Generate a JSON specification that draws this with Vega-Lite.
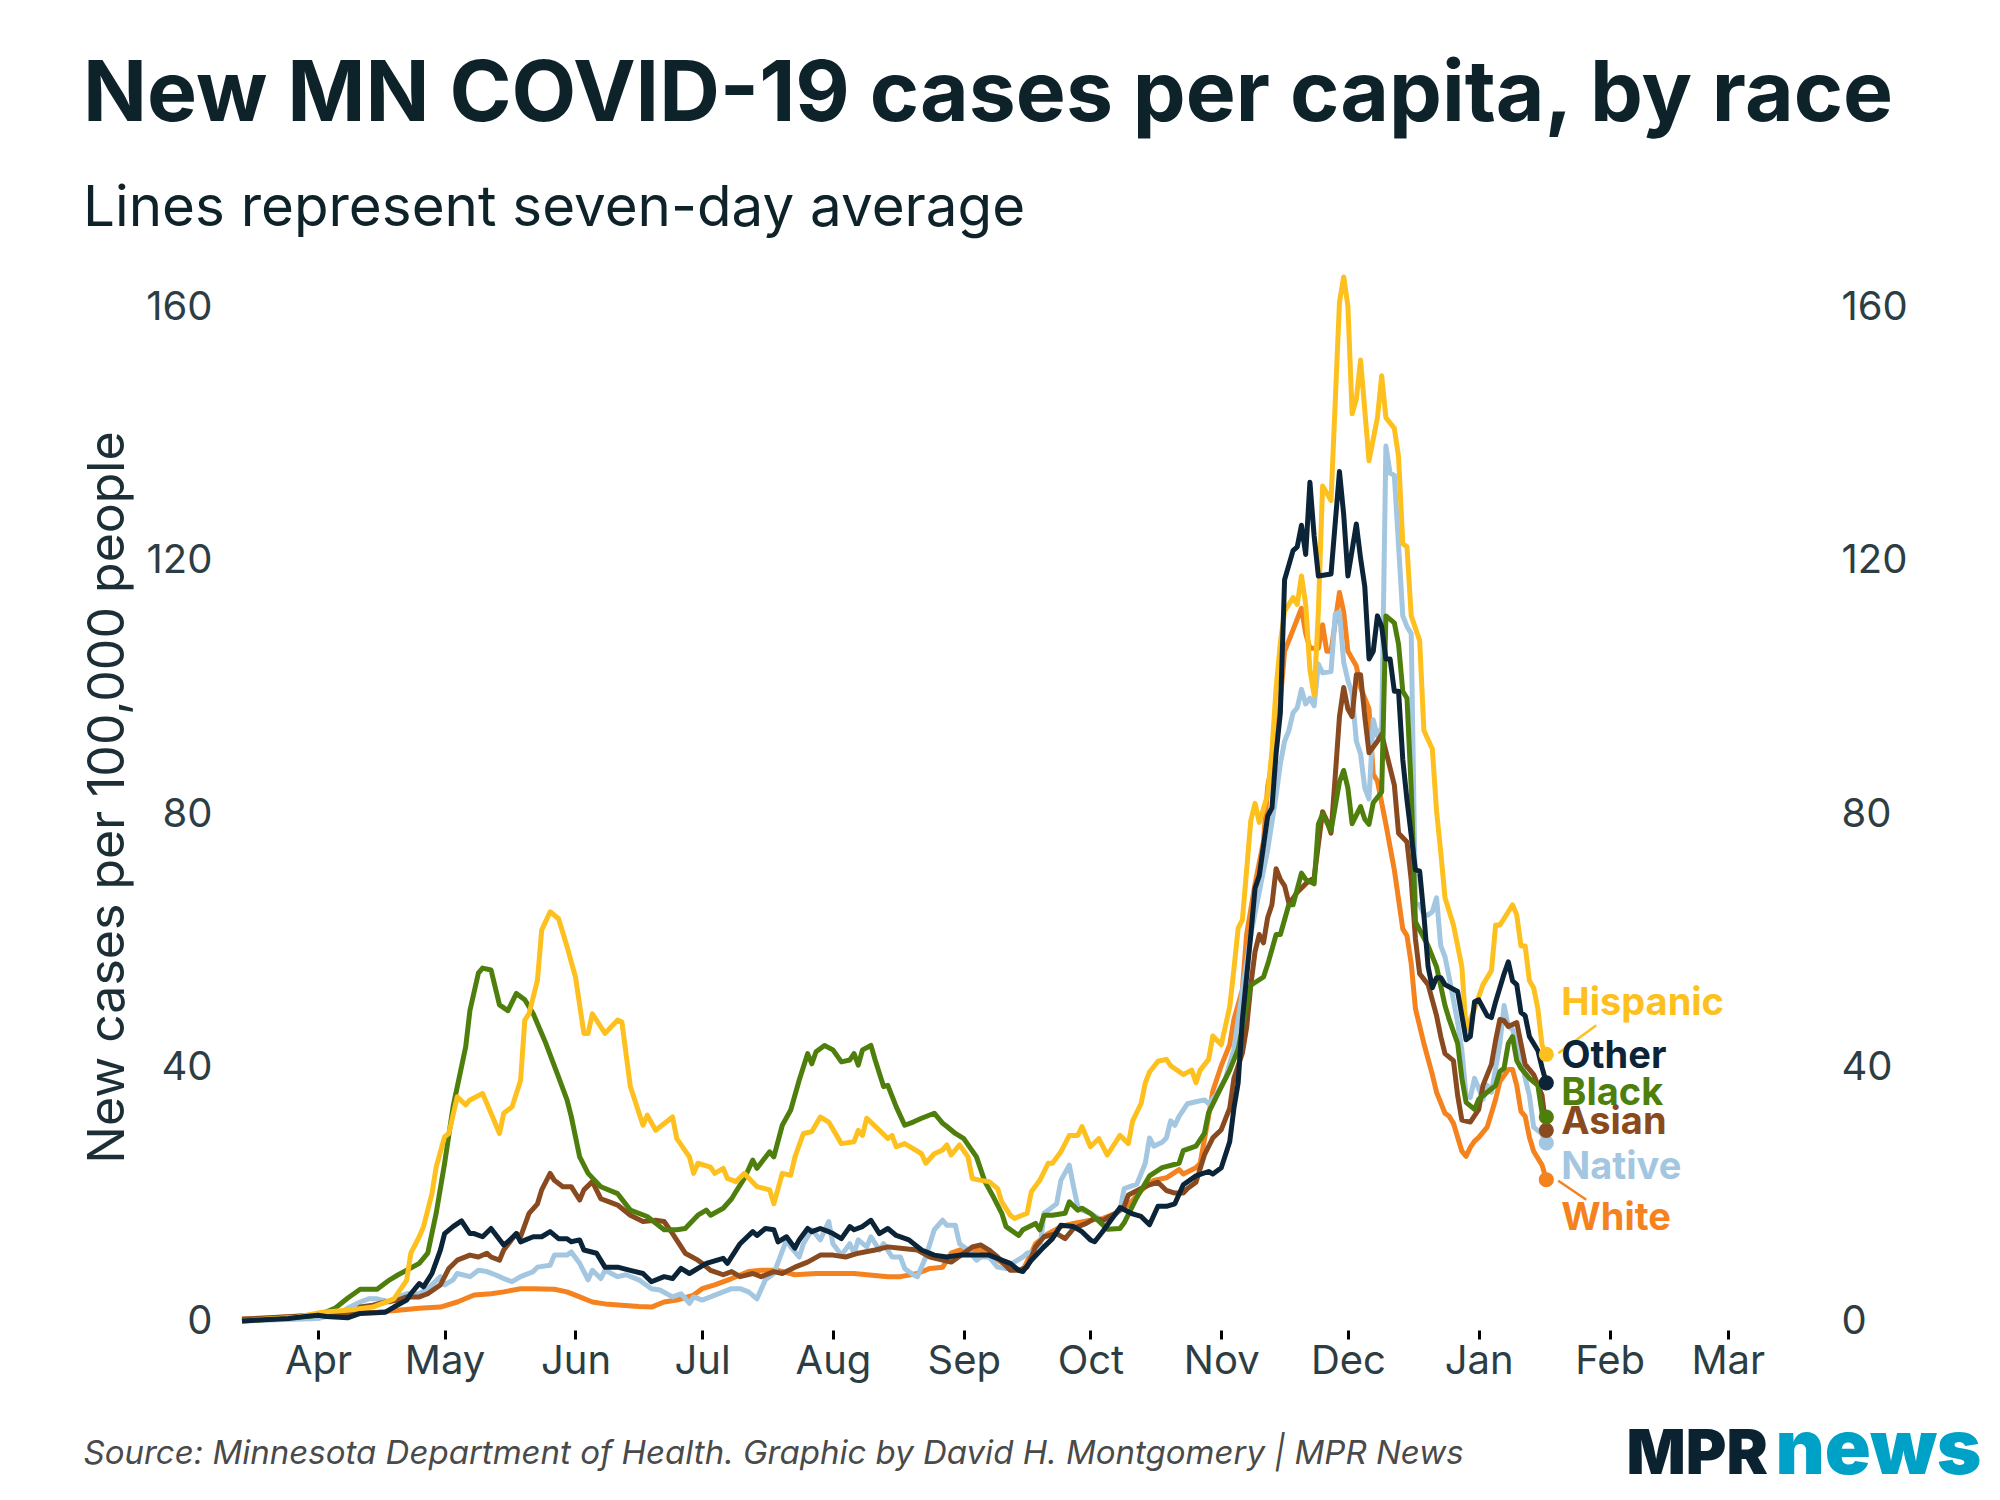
{
  "$schema": "https://vega.github.io/schema/vega-lite/v6.json",
  "width": 1566,
  "height": 1077,
  "autosize": {"type": "none"},
  "padding": {"left": 242, "top": 244, "right": 192, "bottom": 179},
  "background": "white",
  "config": {"view": {"stroke": null}, "font": "Inter"},
  "title": {
    "text": "New MN COVID-19 cases per capita, by race",
    "subtitle": "Lines represent seven-day average",
    "anchor": "start",
    "frame": "bounds",
    "font": "Inter",
    "fontSize": 84,
    "fontWeight": 700,
    "color": "#0d2229",
    "subtitleFont": "Inter",
    "subtitleFontSize": 56.5,
    "subtitleFontWeight": 400,
    "subtitleColor": "#0d2229",
    "subtitlePadding": 42,
    "offset": 6
  },
  "data": {
    "values": [
      {"race":"White","date":"2020-03-14","value":0.2},
      {"race":"White","date":"2020-04-01","value":1},
      {"race":"White","date":"2020-04-06","value":1.2},
      {"race":"White","date":"2020-04-11","value":1.3},
      {"race":"White","date":"2020-04-15","value":1.4},
      {"race":"White","date":"2020-04-20","value":1.7},
      {"race":"White","date":"2020-04-25","value":2},
      {"race":"White","date":"2020-04-30","value":2.2},
      {"race":"White","date":"2020-05-04","value":3},
      {"race":"White","date":"2020-05-08","value":4.1},
      {"race":"White","date":"2020-05-12","value":4.3},
      {"race":"White","date":"2020-05-15","value":4.6},
      {"race":"White","date":"2020-05-19","value":5.1},
      {"race":"White","date":"2020-05-22","value":5.1},
      {"race":"White","date":"2020-05-27","value":5},
      {"race":"White","date":"2020-05-30","value":4.6},
      {"race":"White","date":"2020-06-02","value":3.8},
      {"race":"White","date":"2020-06-05","value":3},
      {"race":"White","date":"2020-06-08","value":2.7},
      {"race":"White","date":"2020-06-12","value":2.5},
      {"race":"White","date":"2020-06-16","value":2.3},
      {"race":"White","date":"2020-06-19","value":2.2},
      {"race":"White","date":"2020-06-22","value":3},
      {"race":"White","date":"2020-06-25","value":3.3},
      {"race":"White","date":"2020-06-29","value":4.1},
      {"race":"White","date":"2020-07-01","value":5.1},
      {"race":"White","date":"2020-07-04","value":5.7},
      {"race":"White","date":"2020-07-08","value":6.7},
      {"race":"White","date":"2020-07-12","value":7.8},
      {"race":"White","date":"2020-07-15","value":8},
      {"race":"White","date":"2020-07-19","value":8},
      {"race":"White","date":"2020-07-23","value":7.3},
      {"race":"White","date":"2020-07-28","value":7.5},
      {"race":"White","date":"2020-08-01","value":7.5},
      {"race":"White","date":"2020-08-06","value":7.5},
      {"race":"White","date":"2020-08-09","value":7.3},
      {"race":"White","date":"2020-08-14","value":7},
      {"race":"White","date":"2020-08-17","value":7},
      {"race":"White","date":"2020-08-21","value":7.5},
      {"race":"White","date":"2020-08-24","value":8.3},
      {"race":"White","date":"2020-08-27","value":8.5},
      {"race":"White","date":"2020-08-29","value":10.7},
      {"race":"White","date":"2020-08-31","value":11.2},
      {"race":"White","date":"2020-09-03","value":11.2},
      {"race":"White","date":"2020-09-05","value":11.2},
      {"race":"White","date":"2020-09-08","value":10.1},
      {"race":"White","date":"2020-09-12","value":8.3},
      {"race":"White","date":"2020-09-15","value":8},
      {"race":"White","date":"2020-09-18","value":12.2},
      {"race":"White","date":"2020-09-21","value":13.8},
      {"race":"White","date":"2020-09-24","value":14.9},
      {"race":"White","date":"2020-09-27","value":15.4},
      {"race":"White","date":"2020-10-01","value":15.9},
      {"race":"White","date":"2020-10-04","value":16.2},
      {"race":"White","date":"2020-10-07","value":17},
      {"race":"White","date":"2020-10-10","value":18.3},
      {"race":"White","date":"2020-10-13","value":20.6},
      {"race":"White","date":"2020-10-16","value":22.2},
      {"race":"White","date":"2020-10-19","value":22.6},
      {"race":"White","date":"2020-10-22","value":23.9},
      {"race":"White","date":"2020-10-23","value":23.2},
      {"race":"White","date":"2020-10-26","value":24.2},
      {"race":"White","date":"2020-10-27","value":24.9},
      {"race":"White","date":"2020-10-29","value":32.3},
      {"race":"White","date":"2020-10-30","value":36.3},
      {"race":"White","date":"2020-11-01","value":40.3},
      {"race":"White","date":"2020-11-03","value":43.6},
      {"race":"White","date":"2020-11-04","value":47.6},
      {"race":"White","date":"2020-11-06","value":52.3},
      {"race":"White","date":"2020-11-07","value":61},
      {"race":"White","date":"2020-11-09","value":69},
      {"race":"White","date":"2020-11-11","value":75.7},
      {"race":"White","date":"2020-11-12","value":84.4},
      {"race":"White","date":"2020-11-14","value":91.1},
      {"race":"White","date":"2020-11-15","value":98},
      {"race":"White","date":"2020-11-16","value":105.7},
      {"race":"White","date":"2020-11-17","value":107.4},
      {"race":"White","date":"2020-11-18","value":109.1},
      {"race":"White","date":"2020-11-20","value":112.5},
      {"race":"White","date":"2020-11-21","value":108.5},
      {"race":"White","date":"2020-11-22","value":106.2},
      {"race":"White","date":"2020-11-24","value":106.2},
      {"race":"White","date":"2020-11-25","value":109.9},
      {"race":"White","date":"2020-11-26","value":105.7},
      {"race":"White","date":"2020-11-27","value":105.7},
      {"race":"White","date":"2020-11-29","value":115},
      {"race":"White","date":"2020-11-30","value":111.9},
      {"race":"White","date":"2020-12-01","value":105.7},
      {"race":"White","date":"2020-12-03","value":103.4},
      {"race":"White","date":"2020-12-04","value":100},
      {"race":"White","date":"2020-12-06","value":96.6},
      {"race":"White","date":"2020-12-07","value":86.3},
      {"race":"White","date":"2020-12-08","value":85.2},
      {"race":"White","date":"2020-12-10","value":78.4},
      {"race":"White","date":"2020-12-12","value":71.2},
      {"race":"White","date":"2020-12-14","value":61.9},
      {"race":"White","date":"2020-12-15","value":60.8},
      {"race":"White","date":"2020-12-16","value":56.4},
      {"race":"White","date":"2020-12-17","value":49.3},
      {"race":"White","date":"2020-12-19","value":43.8},
      {"race":"White","date":"2020-12-21","value":38.9},
      {"race":"White","date":"2020-12-22","value":36.1},
      {"race":"White","date":"2020-12-24","value":32.8},
      {"race":"White","date":"2020-12-25","value":32.3},
      {"race":"White","date":"2020-12-26","value":31.2},
      {"race":"White","date":"2020-12-28","value":26.8},
      {"race":"White","date":"2020-12-29","value":26},
      {"race":"White","date":"2020-12-30","value":27.4},
      {"race":"White","date":"2020-12-31","value":28.4},
      {"race":"White","date":"2021-01-01","value":29},
      {"race":"White","date":"2021-01-03","value":30.6},
      {"race":"White","date":"2021-01-04","value":32.8},
      {"race":"White","date":"2021-01-05","value":35},
      {"race":"White","date":"2021-01-06","value":37.8},
      {"race":"White","date":"2021-01-08","value":39.7},
      {"race":"White","date":"2021-01-09","value":39.7},
      {"race":"White","date":"2021-01-10","value":37.2},
      {"race":"White","date":"2021-01-11","value":33.1},
      {"race":"White","date":"2021-01-12","value":32.3},
      {"race":"White","date":"2021-01-13","value":29},
      {"race":"White","date":"2021-01-14","value":26.8},
      {"race":"White","date":"2021-01-16","value":24.6},
      {"race":"White","date":"2021-01-17","value":22.3},

      {"race":"Native","date":"2020-03-14","value":0},
      {"race":"Native","date":"2020-04-01","value":0.4},
      {"race":"Native","date":"2020-04-06","value":1.2},
      {"race":"Native","date":"2020-04-08","value":2},
      {"race":"Native","date":"2020-04-11","value":3},
      {"race":"Native","date":"2020-04-13","value":3.5},
      {"race":"Native","date":"2020-04-15","value":3.5},
      {"race":"Native","date":"2020-04-18","value":3},
      {"race":"Native","date":"2020-04-20","value":3.8},
      {"race":"Native","date":"2020-04-22","value":4.3},
      {"race":"Native","date":"2020-04-25","value":4.3},
      {"race":"Native","date":"2020-04-27","value":5.1},
      {"race":"Native","date":"2020-04-30","value":7},
      {"race":"Native","date":"2020-05-01","value":5.7},
      {"race":"Native","date":"2020-05-03","value":6.5},
      {"race":"Native","date":"2020-05-04","value":7.5},
      {"race":"Native","date":"2020-05-07","value":7},
      {"race":"Native","date":"2020-05-09","value":8},
      {"race":"Native","date":"2020-05-11","value":7.8},
      {"race":"Native","date":"2020-05-13","value":7.3},
      {"race":"Native","date":"2020-05-15","value":6.7},
      {"race":"Native","date":"2020-05-17","value":6.2},
      {"race":"Native","date":"2020-05-19","value":7},
      {"race":"Native","date":"2020-05-22","value":7.8},
      {"race":"Native","date":"2020-05-23","value":8.5},
      {"race":"Native","date":"2020-05-26","value":8.8},
      {"race":"Native","date":"2020-05-27","value":10.4},
      {"race":"Native","date":"2020-05-30","value":10.4},
      {"race":"Native","date":"2020-05-31","value":10.9},
      {"race":"Native","date":"2020-06-02","value":9.1},
      {"race":"Native","date":"2020-06-04","value":6.5},
      {"race":"Native","date":"2020-06-05","value":8},
      {"race":"Native","date":"2020-06-07","value":6.7},
      {"race":"Native","date":"2020-06-08","value":8},
      {"race":"Native","date":"2020-06-11","value":7},
      {"race":"Native","date":"2020-06-13","value":7.3},
      {"race":"Native","date":"2020-06-16","value":6.5},
      {"race":"Native","date":"2020-06-19","value":5.1},
      {"race":"Native","date":"2020-06-21","value":4.9},
      {"race":"Native","date":"2020-06-24","value":3.8},
      {"race":"Native","date":"2020-06-26","value":4.3},
      {"race":"Native","date":"2020-06-28","value":2.8},
      {"race":"Native","date":"2020-06-29","value":3.8},
      {"race":"Native","date":"2020-07-01","value":3.3},
      {"race":"Native","date":"2020-07-03","value":3.8},
      {"race":"Native","date":"2020-07-06","value":4.6},
      {"race":"Native","date":"2020-07-08","value":5.1},
      {"race":"Native","date":"2020-07-10","value":5.1},
      {"race":"Native","date":"2020-07-12","value":4.6},
      {"race":"Native","date":"2020-07-14","value":3.5},
      {"race":"Native","date":"2020-07-16","value":6.5},
      {"race":"Native","date":"2020-07-18","value":7.5},
      {"race":"Native","date":"2020-07-21","value":12.8},
      {"race":"Native","date":"2020-07-22","value":11.7},
      {"race":"Native","date":"2020-07-24","value":10.1},
      {"race":"Native","date":"2020-07-25","value":12.2},
      {"race":"Native","date":"2020-07-27","value":14.4},
      {"race":"Native","date":"2020-07-29","value":12.8},
      {"race":"Native","date":"2020-07-31","value":15.7},
      {"race":"Native","date":"2020-08-01","value":12.2},
      {"race":"Native","date":"2020-08-03","value":10.4},
      {"race":"Native","date":"2020-08-05","value":12.2},
      {"race":"Native","date":"2020-08-06","value":10.7},
      {"race":"Native","date":"2020-08-07","value":12.8},
      {"race":"Native","date":"2020-08-09","value":11.7},
      {"race":"Native","date":"2020-08-10","value":13.3},
      {"race":"Native","date":"2020-08-12","value":11.2},
      {"race":"Native","date":"2020-08-13","value":12.2},
      {"race":"Native","date":"2020-08-15","value":10.1},
      {"race":"Native","date":"2020-08-17","value":10.1},
      {"race":"Native","date":"2020-08-18","value":8.3},
      {"race":"Native","date":"2020-08-20","value":7.3},
      {"race":"Native","date":"2020-08-21","value":7},
      {"race":"Native","date":"2020-08-23","value":10.1},
      {"race":"Native","date":"2020-08-25","value":14.4},
      {"race":"Native","date":"2020-08-27","value":15.9},
      {"race":"Native","date":"2020-08-28","value":15.1},
      {"race":"Native","date":"2020-08-30","value":15.1},
      {"race":"Native","date":"2020-08-31","value":12.2},
      {"race":"Native","date":"2020-09-02","value":11.2},
      {"race":"Native","date":"2020-09-04","value":9.6},
      {"race":"Native","date":"2020-09-05","value":10.1},
      {"race":"Native","date":"2020-09-07","value":10.1},
      {"race":"Native","date":"2020-09-09","value":8.5},
      {"race":"Native","date":"2020-09-11","value":8.3},
      {"race":"Native","date":"2020-09-13","value":9.3},
      {"race":"Native","date":"2020-09-15","value":10.1},
      {"race":"Native","date":"2020-09-16","value":10.7},
      {"race":"Native","date":"2020-09-19","value":11.2},
      {"race":"Native","date":"2020-09-20","value":17},
      {"race":"Native","date":"2020-09-21","value":17.5},
      {"race":"Native","date":"2020-09-23","value":18.5},
      {"race":"Native","date":"2020-09-24","value":22.2},
      {"race":"Native","date":"2020-09-26","value":24.6},
      {"race":"Native","date":"2020-09-27","value":21.2},
      {"race":"Native","date":"2020-09-28","value":18.1},
      {"race":"Native","date":"2020-09-29","value":17.5},
      {"race":"Native","date":"2020-10-01","value":17},
      {"race":"Native","date":"2020-10-03","value":16.2},
      {"race":"Native","date":"2020-10-05","value":15.5},
      {"race":"Native","date":"2020-10-08","value":17.5},
      {"race":"Native","date":"2020-10-09","value":20.9},
      {"race":"Native","date":"2020-10-12","value":21.6},
      {"race":"Native","date":"2020-10-14","value":24.9},
      {"race":"Native","date":"2020-10-15","value":28.9},
      {"race":"Native","date":"2020-10-16","value":27.6},
      {"race":"Native","date":"2020-10-18","value":28.2},
      {"race":"Native","date":"2020-10-19","value":28.9},
      {"race":"Native","date":"2020-10-20","value":31.6},
      {"race":"Native","date":"2020-10-21","value":30.9},
      {"race":"Native","date":"2020-10-22","value":32.3},
      {"race":"Native","date":"2020-10-24","value":34.3},
      {"race":"Native","date":"2020-10-26","value":34.6},
      {"race":"Native","date":"2020-10-28","value":34.9},
      {"race":"Native","date":"2020-10-29","value":34.3},
      {"race":"Native","date":"2020-10-31","value":35.9},
      {"race":"Native","date":"2020-11-02","value":38.3},
      {"race":"Native","date":"2020-11-04","value":42.9},
      {"race":"Native","date":"2020-11-05","value":47.6},
      {"race":"Native","date":"2020-11-08","value":61},
      {"race":"Native","date":"2020-11-10","value":67.7},
      {"race":"Native","date":"2020-11-12","value":74.4},
      {"race":"Native","date":"2020-11-14","value":83},
      {"race":"Native","date":"2020-11-15","value":88},
      {"race":"Native","date":"2020-11-16","value":91.5},
      {"race":"Native","date":"2020-11-17","value":93.2},
      {"race":"Native","date":"2020-11-18","value":96},
      {"race":"Native","date":"2020-11-19","value":96.8},
      {"race":"Native","date":"2020-11-20","value":99.7},
      {"race":"Native","date":"2020-11-21","value":97.4},
      {"race":"Native","date":"2020-11-22","value":98.3},
      {"race":"Native","date":"2020-11-23","value":97.1},
      {"race":"Native","date":"2020-11-24","value":103.7},
      {"race":"Native","date":"2020-11-25","value":102.3},
      {"race":"Native","date":"2020-11-27","value":102.5},
      {"race":"Native","date":"2020-11-28","value":111.6},
      {"race":"Native","date":"2020-11-29","value":111.9},
      {"race":"Native","date":"2020-11-30","value":104},
      {"race":"Native","date":"2020-12-01","value":101.1},
      {"race":"Native","date":"2020-12-02","value":99},
      {"race":"Native","date":"2020-12-03","value":91.5},
      {"race":"Native","date":"2020-12-04","value":89.5},
      {"race":"Native","date":"2020-12-05","value":84.1},
      {"race":"Native","date":"2020-12-06","value":82.4},
      {"race":"Native","date":"2020-12-07","value":94.9},
      {"race":"Native","date":"2020-12-08","value":92.3},
      {"race":"Native","date":"2020-12-09","value":93.7},
      {"race":"Native","date":"2020-12-10","value":138.1},
      {"race":"Native","date":"2020-12-11","value":133.8},
      {"race":"Native","date":"2020-12-12","value":133.5},
      {"race":"Native","date":"2020-12-14","value":111.3},
      {"race":"Native","date":"2020-12-15","value":109.6},
      {"race":"Native","date":"2020-12-16","value":108.5},
      {"race":"Native","date":"2020-12-17","value":66},
      {"race":"Native","date":"2020-12-18","value":65.7},
      {"race":"Native","date":"2020-12-19","value":64.1},
      {"race":"Native","date":"2020-12-20","value":64.1},
      {"race":"Native","date":"2020-12-21","value":64.6},
      {"race":"Native","date":"2020-12-22","value":66.8},
      {"race":"Native","date":"2020-12-23","value":59.2},
      {"race":"Native","date":"2020-12-24","value":57.5},
      {"race":"Native","date":"2020-12-25","value":54.2},
      {"race":"Native","date":"2020-12-27","value":47.1},
      {"race":"Native","date":"2020-12-28","value":42.7},
      {"race":"Native","date":"2020-12-29","value":35.6},
      {"race":"Native","date":"2020-12-30","value":35.3},
      {"race":"Native","date":"2020-12-31","value":38.3},
      {"race":"Native","date":"2021-01-01","value":36.7},
      {"race":"Native","date":"2021-01-02","value":35},
      {"race":"Native","date":"2021-01-03","value":37.2},
      {"race":"Native","date":"2021-01-04","value":36.1},
      {"race":"Native","date":"2021-01-05","value":39.9},
      {"race":"Native","date":"2021-01-06","value":43.8},
      {"race":"Native","date":"2021-01-07","value":49.8},
      {"race":"Native","date":"2021-01-08","value":46.5},
      {"race":"Native","date":"2021-01-09","value":46},
      {"race":"Native","date":"2021-01-10","value":43.8},
      {"race":"Native","date":"2021-01-11","value":41.6},
      {"race":"Native","date":"2021-01-12","value":38.3},
      {"race":"Native","date":"2021-01-13","value":35.6},
      {"race":"Native","date":"2021-01-14","value":30.6},
      {"race":"Native","date":"2021-01-16","value":29.5},
      {"race":"Native","date":"2021-01-17","value":28.1},

      {"race":"Asian","date":"2020-03-14","value":0.3},
      {"race":"Asian","date":"2020-04-01","value":0.9},
      {"race":"Asian","date":"2020-04-08","value":1.2},
      {"race":"Asian","date":"2020-04-10","value":1.7},
      {"race":"Asian","date":"2020-04-11","value":2.2},
      {"race":"Asian","date":"2020-04-14","value":2.5},
      {"race":"Asian","date":"2020-04-17","value":3},
      {"race":"Asian","date":"2020-04-20","value":3.3},
      {"race":"Asian","date":"2020-04-22","value":3.8},
      {"race":"Asian","date":"2020-04-25","value":3.8},
      {"race":"Asian","date":"2020-04-27","value":4.3},
      {"race":"Asian","date":"2020-04-30","value":5.7},
      {"race":"Asian","date":"2020-05-02","value":8.3},
      {"race":"Asian","date":"2020-05-04","value":9.6},
      {"race":"Asian","date":"2020-05-07","value":10.4},
      {"race":"Asian","date":"2020-05-09","value":10.1},
      {"race":"Asian","date":"2020-05-11","value":10.7},
      {"race":"Asian","date":"2020-05-12","value":10.1},
      {"race":"Asian","date":"2020-05-14","value":9.6},
      {"race":"Asian","date":"2020-05-15","value":11.2},
      {"race":"Asian","date":"2020-05-18","value":13.8},
      {"race":"Asian","date":"2020-05-19","value":13.3},
      {"race":"Asian","date":"2020-05-21","value":17},
      {"race":"Asian","date":"2020-05-23","value":18.5},
      {"race":"Asian","date":"2020-05-24","value":20.7},
      {"race":"Asian","date":"2020-05-26","value":23.3},
      {"race":"Asian","date":"2020-05-27","value":22.2},
      {"race":"Asian","date":"2020-05-29","value":21.2},
      {"race":"Asian","date":"2020-05-31","value":21.2},
      {"race":"Asian","date":"2020-06-02","value":19.1},
      {"race":"Asian","date":"2020-06-03","value":20.7},
      {"race":"Asian","date":"2020-06-05","value":22},
      {"race":"Asian","date":"2020-06-07","value":19.3},
      {"race":"Asian","date":"2020-06-09","value":18.8},
      {"race":"Asian","date":"2020-06-11","value":18.3},
      {"race":"Asian","date":"2020-06-14","value":16.7},
      {"race":"Asian","date":"2020-06-17","value":15.7},
      {"race":"Asian","date":"2020-06-20","value":15.9},
      {"race":"Asian","date":"2020-06-22","value":15.7},
      {"race":"Asian","date":"2020-06-24","value":13.8},
      {"race":"Asian","date":"2020-06-27","value":10.7},
      {"race":"Asian","date":"2020-06-30","value":9.6},
      {"race":"Asian","date":"2020-07-01","value":9.1},
      {"race":"Asian","date":"2020-07-03","value":8},
      {"race":"Asian","date":"2020-07-06","value":7.3},
      {"race":"Asian","date":"2020-07-08","value":7.8},
      {"race":"Asian","date":"2020-07-10","value":7},
      {"race":"Asian","date":"2020-07-13","value":7.5},
      {"race":"Asian","date":"2020-07-15","value":7},
      {"race":"Asian","date":"2020-07-18","value":7.8},
      {"race":"Asian","date":"2020-07-20","value":7.5},
      {"race":"Asian","date":"2020-07-23","value":8.5},
      {"race":"Asian","date":"2020-07-26","value":9.3},
      {"race":"Asian","date":"2020-07-29","value":10.4},
      {"race":"Asian","date":"2020-08-01","value":10.4},
      {"race":"Asian","date":"2020-08-04","value":10.1},
      {"race":"Asian","date":"2020-08-07","value":10.7},
      {"race":"Asian","date":"2020-08-11","value":11.2},
      {"race":"Asian","date":"2020-08-14","value":11.7},
      {"race":"Asian","date":"2020-08-17","value":11.5},
      {"race":"Asian","date":"2020-08-21","value":11.2},
      {"race":"Asian","date":"2020-08-24","value":10.1},
      {"race":"Asian","date":"2020-08-27","value":9.6},
      {"race":"Asian","date":"2020-08-29","value":9.3},
      {"race":"Asian","date":"2020-09-01","value":10.7},
      {"race":"Asian","date":"2020-09-03","value":11.7},
      {"race":"Asian","date":"2020-09-05","value":12},
      {"race":"Asian","date":"2020-09-07","value":11.2},
      {"race":"Asian","date":"2020-09-09","value":10.1},
      {"race":"Asian","date":"2020-09-12","value":8},
      {"race":"Asian","date":"2020-09-14","value":8},
      {"race":"Asian","date":"2020-09-16","value":8.5},
      {"race":"Asian","date":"2020-09-18","value":11.7},
      {"race":"Asian","date":"2020-09-20","value":13.3},
      {"race":"Asian","date":"2020-09-23","value":13.8},
      {"race":"Asian","date":"2020-09-25","value":13},
      {"race":"Asian","date":"2020-09-27","value":14.6},
      {"race":"Asian","date":"2020-09-30","value":15.4},
      {"race":"Asian","date":"2020-10-02","value":16.2},
      {"race":"Asian","date":"2020-10-04","value":15.9},
      {"race":"Asian","date":"2020-10-07","value":17},
      {"race":"Asian","date":"2020-10-09","value":18.1},
      {"race":"Asian","date":"2020-10-10","value":19.9},
      {"race":"Asian","date":"2020-10-13","value":20.9},
      {"race":"Asian","date":"2020-10-15","value":21.5},
      {"race":"Asian","date":"2020-10-17","value":21.9},
      {"race":"Asian","date":"2020-10-19","value":20.6},
      {"race":"Asian","date":"2020-10-21","value":20.2},
      {"race":"Asian","date":"2020-10-23","value":20.2},
      {"race":"Asian","date":"2020-10-24","value":20.9},
      {"race":"Asian","date":"2020-10-26","value":21.9},
      {"race":"Asian","date":"2020-10-28","value":26.2},
      {"race":"Asian","date":"2020-10-30","value":28.9},
      {"race":"Asian","date":"2020-11-01","value":30.2},
      {"race":"Asian","date":"2020-11-03","value":33.6},
      {"race":"Asian","date":"2020-11-04","value":38.3},
      {"race":"Asian","date":"2020-11-06","value":42.3},
      {"race":"Asian","date":"2020-11-07","value":46.3},
      {"race":"Asian","date":"2020-11-08","value":53},
      {"race":"Asian","date":"2020-11-09","value":58.3},
      {"race":"Asian","date":"2020-11-10","value":61},
      {"race":"Asian","date":"2020-11-11","value":59.7},
      {"race":"Asian","date":"2020-11-12","value":63.7},
      {"race":"Asian","date":"2020-11-13","value":65.7},
      {"race":"Asian","date":"2020-11-14","value":71.4},
      {"race":"Asian","date":"2020-11-15","value":69.7},
      {"race":"Asian","date":"2020-11-16","value":68.7},
      {"race":"Asian","date":"2020-11-17","value":66},
      {"race":"Asian","date":"2020-11-18","value":66.7},
      {"race":"Asian","date":"2020-11-19","value":67.7},
      {"race":"Asian","date":"2020-11-21","value":69},
      {"race":"Asian","date":"2020-11-23","value":70},
      {"race":"Asian","date":"2020-11-25","value":80.4},
      {"race":"Asian","date":"2020-11-26","value":79},
      {"race":"Asian","date":"2020-11-27","value":77},
      {"race":"Asian","date":"2020-11-28","value":86},
      {"race":"Asian","date":"2020-11-29","value":95.4},
      {"race":"Asian","date":"2020-11-30","value":100},
      {"race":"Asian","date":"2020-12-01","value":96.6},
      {"race":"Asian","date":"2020-12-02","value":95.4},
      {"race":"Asian","date":"2020-12-03","value":102},
      {"race":"Asian","date":"2020-12-04","value":102},
      {"race":"Asian","date":"2020-12-05","value":95.4},
      {"race":"Asian","date":"2020-12-06","value":89.7},
      {"race":"Asian","date":"2020-12-08","value":91.5},
      {"race":"Asian","date":"2020-12-09","value":92.6},
      {"race":"Asian","date":"2020-12-12","value":84.6},
      {"race":"Asian","date":"2020-12-13","value":77},
      {"race":"Asian","date":"2020-12-15","value":75.6},
      {"race":"Asian","date":"2020-12-16","value":69.6},
      {"race":"Asian","date":"2020-12-17","value":60.3},
      {"race":"Asian","date":"2020-12-18","value":54.8},
      {"race":"Asian","date":"2020-12-20","value":53.1},
      {"race":"Asian","date":"2020-12-22","value":48.2},
      {"race":"Asian","date":"2020-12-23","value":44.9},
      {"race":"Asian","date":"2020-12-24","value":42.2},
      {"race":"Asian","date":"2020-12-26","value":41.1},
      {"race":"Asian","date":"2020-12-27","value":35.6},
      {"race":"Asian","date":"2020-12-28","value":31.7},
      {"race":"Asian","date":"2020-12-30","value":31.4},
      {"race":"Asian","date":"2021-01-01","value":33.4},
      {"race":"Asian","date":"2021-01-02","value":37.2},
      {"race":"Asian","date":"2021-01-04","value":40.5},
      {"race":"Asian","date":"2021-01-05","value":44.3},
      {"race":"Asian","date":"2021-01-06","value":47.6},
      {"race":"Asian","date":"2021-01-07","value":47.4},
      {"race":"Asian","date":"2021-01-08","value":46.5},
      {"race":"Asian","date":"2021-01-10","value":47.1},
      {"race":"Asian","date":"2021-01-11","value":43.8},
      {"race":"Asian","date":"2021-01-12","value":40.5},
      {"race":"Asian","date":"2021-01-14","value":38.9},
      {"race":"Asian","date":"2021-01-16","value":35.6},
      {"race":"Asian","date":"2021-01-17","value":30.1},

      {"race":"Black","date":"2020-03-14","value":0},
      {"race":"Black","date":"2020-03-25","value":0.5},
      {"race":"Black","date":"2020-04-01","value":0.9},
      {"race":"Black","date":"2020-04-05","value":2},
      {"race":"Black","date":"2020-04-08","value":3.6},
      {"race":"Black","date":"2020-04-11","value":5},
      {"race":"Black","date":"2020-04-15","value":5},
      {"race":"Black","date":"2020-04-18","value":6.5},
      {"race":"Black","date":"2020-04-20","value":7.3},
      {"race":"Black","date":"2020-04-22","value":8},
      {"race":"Black","date":"2020-04-25","value":9.1},
      {"race":"Black","date":"2020-04-27","value":10.7},
      {"race":"Black","date":"2020-04-29","value":17},
      {"race":"Black","date":"2020-05-01","value":24.9},
      {"race":"Black","date":"2020-05-03","value":33.8},
      {"race":"Black","date":"2020-05-06","value":43.3},
      {"race":"Black","date":"2020-05-07","value":49},
      {"race":"Black","date":"2020-05-09","value":54.9},
      {"race":"Black","date":"2020-05-10","value":55.7},
      {"race":"Black","date":"2020-05-12","value":55.4},
      {"race":"Black","date":"2020-05-14","value":49.9},
      {"race":"Black","date":"2020-05-16","value":49},
      {"race":"Black","date":"2020-05-18","value":51.7},
      {"race":"Black","date":"2020-05-20","value":50.7},
      {"race":"Black","date":"2020-05-22","value":48.5},
      {"race":"Black","date":"2020-05-25","value":43.8},
      {"race":"Black","date":"2020-05-28","value":38.5},
      {"race":"Black","date":"2020-05-30","value":34.9},
      {"race":"Black","date":"2020-05-31","value":32.3},
      {"race":"Black","date":"2020-06-02","value":25.9},
      {"race":"Black","date":"2020-06-04","value":23.3},
      {"race":"Black","date":"2020-06-07","value":21.2},
      {"race":"Black","date":"2020-06-11","value":20.1},
      {"race":"Black","date":"2020-06-14","value":17.5},
      {"race":"Black","date":"2020-06-18","value":16.5},
      {"race":"Black","date":"2020-06-22","value":14.4},
      {"race":"Black","date":"2020-06-25","value":14.4},
      {"race":"Black","date":"2020-06-27","value":14.6},
      {"race":"Black","date":"2020-06-30","value":16.7},
      {"race":"Black","date":"2020-07-02","value":17.5},
      {"race":"Black","date":"2020-07-03","value":16.7},
      {"race":"Black","date":"2020-07-06","value":17.8},
      {"race":"Black","date":"2020-07-08","value":19.3},
      {"race":"Black","date":"2020-07-09","value":20.4},
      {"race":"Black","date":"2020-07-11","value":22.5},
      {"race":"Black","date":"2020-07-13","value":25.4},
      {"race":"Black","date":"2020-07-14","value":24.1},
      {"race":"Black","date":"2020-07-17","value":26.7},
      {"race":"Black","date":"2020-07-18","value":25.9},
      {"race":"Black","date":"2020-07-20","value":30.9},
      {"race":"Black","date":"2020-07-22","value":33.3},
      {"race":"Black","date":"2020-07-24","value":38},
      {"race":"Black","date":"2020-07-26","value":42.2},
      {"race":"Black","date":"2020-07-27","value":40.6},
      {"race":"Black","date":"2020-07-28","value":42.5},
      {"race":"Black","date":"2020-07-30","value":43.5},
      {"race":"Black","date":"2020-08-01","value":42.8},
      {"race":"Black","date":"2020-08-03","value":40.9},
      {"race":"Black","date":"2020-08-05","value":41.2},
      {"race":"Black","date":"2020-08-06","value":42.2},
      {"race":"Black","date":"2020-08-07","value":40.4},
      {"race":"Black","date":"2020-08-08","value":42.8},
      {"race":"Black","date":"2020-08-10","value":43.5},
      {"race":"Black","date":"2020-08-11","value":41.2},
      {"race":"Black","date":"2020-08-13","value":37},
      {"race":"Black","date":"2020-08-14","value":37.2},
      {"race":"Black","date":"2020-08-16","value":33.8},
      {"race":"Black","date":"2020-08-18","value":30.9},
      {"race":"Black","date":"2020-08-20","value":31.4},
      {"race":"Black","date":"2020-08-22","value":32},
      {"race":"Black","date":"2020-08-25","value":32.8},
      {"race":"Black","date":"2020-08-27","value":31.2},
      {"race":"Black","date":"2020-08-28","value":30.7},
      {"race":"Black","date":"2020-08-30","value":29.6},
      {"race":"Black","date":"2020-09-01","value":28.8},
      {"race":"Black","date":"2020-09-04","value":25.9},
      {"race":"Black","date":"2020-09-06","value":22},
      {"race":"Black","date":"2020-09-08","value":19.6},
      {"race":"Black","date":"2020-09-10","value":17},
      {"race":"Black","date":"2020-09-11","value":14.9},
      {"race":"Black","date":"2020-09-14","value":13.5},
      {"race":"Black","date":"2020-09-15","value":14.4},
      {"race":"Black","date":"2020-09-18","value":15.4},
      {"race":"Black","date":"2020-09-19","value":14.4},
      {"race":"Black","date":"2020-09-20","value":16.7},
      {"race":"Black","date":"2020-09-22","value":16.7},
      {"race":"Black","date":"2020-09-25","value":17},
      {"race":"Black","date":"2020-09-26","value":18.8},
      {"race":"Black","date":"2020-09-28","value":17.5},
      {"race":"Black","date":"2020-09-29","value":17.8},
      {"race":"Black","date":"2020-10-01","value":17},
      {"race":"Black","date":"2020-10-05","value":14.5},
      {"race":"Black","date":"2020-10-08","value":14.6},
      {"race":"Black","date":"2020-10-09","value":15.5},
      {"race":"Black","date":"2020-10-12","value":19.5},
      {"race":"Black","date":"2020-10-15","value":22.9},
      {"race":"Black","date":"2020-10-18","value":24.2},
      {"race":"Black","date":"2020-10-22","value":24.9},
      {"race":"Black","date":"2020-10-23","value":26.9},
      {"race":"Black","date":"2020-10-26","value":27.6},
      {"race":"Black","date":"2020-10-28","value":29.6},
      {"race":"Black","date":"2020-10-29","value":32.9},
      {"race":"Black","date":"2020-10-31","value":35.6},
      {"race":"Black","date":"2020-11-03","value":39.6},
      {"race":"Black","date":"2020-11-05","value":42.9},
      {"race":"Black","date":"2020-11-06","value":46.3},
      {"race":"Black","date":"2020-11-08","value":53},
      {"race":"Black","date":"2020-11-11","value":54.3},
      {"race":"Black","date":"2020-11-12","value":56.3},
      {"race":"Black","date":"2020-11-14","value":61},
      {"race":"Black","date":"2020-11-15","value":61},
      {"race":"Black","date":"2020-11-17","value":65.7},
      {"race":"Black","date":"2020-11-18","value":65.7},
      {"race":"Black","date":"2020-11-20","value":70.7},
      {"race":"Black","date":"2020-11-21","value":69.7},
      {"race":"Black","date":"2020-11-23","value":69},
      {"race":"Black","date":"2020-11-24","value":78.4},
      {"race":"Black","date":"2020-11-25","value":80},
      {"race":"Black","date":"2020-11-27","value":77.4},
      {"race":"Black","date":"2020-11-29","value":85.1},
      {"race":"Black","date":"2020-11-30","value":86.9},
      {"race":"Black","date":"2020-12-01","value":84.1},
      {"race":"Black","date":"2020-12-02","value":78.5},
      {"race":"Black","date":"2020-12-04","value":81.2},
      {"race":"Black","date":"2020-12-05","value":79.2},
      {"race":"Black","date":"2020-12-06","value":78.4},
      {"race":"Black","date":"2020-12-07","value":81.8},
      {"race":"Black","date":"2020-12-09","value":83.5},
      {"race":"Black","date":"2020-12-10","value":111.3},
      {"race":"Black","date":"2020-12-12","value":110.2},
      {"race":"Black","date":"2020-12-13","value":106.8},
      {"race":"Black","date":"2020-12-14","value":99.4},
      {"race":"Black","date":"2020-12-15","value":98.3},
      {"race":"Black","date":"2020-12-16","value":84},
      {"race":"Black","date":"2020-12-17","value":63},
      {"race":"Black","date":"2020-12-20","value":59.2},
      {"race":"Black","date":"2020-12-22","value":55.9},
      {"race":"Black","date":"2020-12-24","value":49.8},
      {"race":"Black","date":"2020-12-25","value":47.6},
      {"race":"Black","date":"2020-12-27","value":43.8},
      {"race":"Black","date":"2020-12-28","value":38.3},
      {"race":"Black","date":"2020-12-29","value":34.5},
      {"race":"Black","date":"2020-12-31","value":33.4},
      {"race":"Black","date":"2021-01-01","value":35},
      {"race":"Black","date":"2021-01-03","value":36.1},
      {"race":"Black","date":"2021-01-05","value":37.2},
      {"race":"Black","date":"2021-01-06","value":39.4},
      {"race":"Black","date":"2021-01-07","value":39.9},
      {"race":"Black","date":"2021-01-08","value":43.8},
      {"race":"Black","date":"2021-01-09","value":44.9},
      {"race":"Black","date":"2021-01-10","value":41.1},
      {"race":"Black","date":"2021-01-11","value":39.9},
      {"race":"Black","date":"2021-01-13","value":38.3},
      {"race":"Black","date":"2021-01-15","value":37.2},
      {"race":"Black","date":"2021-01-16","value":32.8},
      {"race":"Black","date":"2021-01-17","value":32.2},

      {"race":"Hispanic","date":"2020-03-14","value":0},
      {"race":"Hispanic","date":"2020-03-20","value":0.3},
      {"race":"Hispanic","date":"2020-03-27","value":0.6},
      {"race":"Hispanic","date":"2020-04-02","value":1.4},
      {"race":"Hispanic","date":"2020-04-08","value":1.7},
      {"race":"Hispanic","date":"2020-04-14","value":2.2},
      {"race":"Hispanic","date":"2020-04-19","value":3.5},
      {"race":"Hispanic","date":"2020-04-22","value":6.4},
      {"race":"Hispanic","date":"2020-04-23","value":10.7},
      {"race":"Hispanic","date":"2020-04-25","value":13.3},
      {"race":"Hispanic","date":"2020-04-26","value":14.9},
      {"race":"Hispanic","date":"2020-04-28","value":20.1},
      {"race":"Hispanic","date":"2020-04-29","value":24.3},
      {"race":"Hispanic","date":"2020-05-01","value":29.1},
      {"race":"Hispanic","date":"2020-05-02","value":29.6},
      {"race":"Hispanic","date":"2020-05-04","value":35.4},
      {"race":"Hispanic","date":"2020-05-06","value":34.1},
      {"race":"Hispanic","date":"2020-05-07","value":34.9},
      {"race":"Hispanic","date":"2020-05-10","value":35.9},
      {"race":"Hispanic","date":"2020-05-12","value":32.8},
      {"race":"Hispanic","date":"2020-05-14","value":29.6},
      {"race":"Hispanic","date":"2020-05-15","value":32.8},
      {"race":"Hispanic","date":"2020-05-17","value":33.8},
      {"race":"Hispanic","date":"2020-05-19","value":38},
      {"race":"Hispanic","date":"2020-05-20","value":47.5},
      {"race":"Hispanic","date":"2020-05-21","value":48.5},
      {"race":"Hispanic","date":"2020-05-23","value":53.8},
      {"race":"Hispanic","date":"2020-05-24","value":61.7},
      {"race":"Hispanic","date":"2020-05-26","value":64.6},
      {"race":"Hispanic","date":"2020-05-28","value":63.5},
      {"race":"Hispanic","date":"2020-05-30","value":59.1},
      {"race":"Hispanic","date":"2020-06-01","value":54.3},
      {"race":"Hispanic","date":"2020-06-03","value":45.4},
      {"race":"Hispanic","date":"2020-06-04","value":45.4},
      {"race":"Hispanic","date":"2020-06-05","value":48.5},
      {"race":"Hispanic","date":"2020-06-08","value":45.4},
      {"race":"Hispanic","date":"2020-06-11","value":47.5},
      {"race":"Hispanic","date":"2020-06-12","value":47.2},
      {"race":"Hispanic","date":"2020-06-14","value":37},
      {"race":"Hispanic","date":"2020-06-17","value":30.9},
      {"race":"Hispanic","date":"2020-06-18","value":32.5},
      {"race":"Hispanic","date":"2020-06-20","value":30.1},
      {"race":"Hispanic","date":"2020-06-24","value":32.2},
      {"race":"Hispanic","date":"2020-06-25","value":28.8},
      {"race":"Hispanic","date":"2020-06-28","value":25.9},
      {"race":"Hispanic","date":"2020-06-29","value":23.3},
      {"race":"Hispanic","date":"2020-06-30","value":24.9},
      {"race":"Hispanic","date":"2020-07-03","value":24.3},
      {"race":"Hispanic","date":"2020-07-04","value":23.3},
      {"race":"Hispanic","date":"2020-07-06","value":24.1},
      {"race":"Hispanic","date":"2020-07-07","value":22.5},
      {"race":"Hispanic","date":"2020-07-09","value":22},
      {"race":"Hispanic","date":"2020-07-11","value":23.3},
      {"race":"Hispanic","date":"2020-07-14","value":21.2},
      {"race":"Hispanic","date":"2020-07-17","value":20.7},
      {"race":"Hispanic","date":"2020-07-18","value":18.5},
      {"race":"Hispanic","date":"2020-07-20","value":23.3},
      {"race":"Hispanic","date":"2020-07-22","value":23},
      {"race":"Hispanic","date":"2020-07-23","value":25.9},
      {"race":"Hispanic","date":"2020-07-25","value":29.6},
      {"race":"Hispanic","date":"2020-07-27","value":29.9},
      {"race":"Hispanic","date":"2020-07-29","value":32.2},
      {"race":"Hispanic","date":"2020-07-31","value":31.4},
      {"race":"Hispanic","date":"2020-08-03","value":28},
      {"race":"Hispanic","date":"2020-08-06","value":28.3},
      {"race":"Hispanic","date":"2020-08-07","value":30.1},
      {"race":"Hispanic","date":"2020-08-08","value":29.3},
      {"race":"Hispanic","date":"2020-08-09","value":32},
      {"race":"Hispanic","date":"2020-08-12","value":30.1},
      {"race":"Hispanic","date":"2020-08-14","value":28.8},
      {"race":"Hispanic","date":"2020-08-15","value":29.3},
      {"race":"Hispanic","date":"2020-08-16","value":27.5},
      {"race":"Hispanic","date":"2020-08-18","value":28},
      {"race":"Hispanic","date":"2020-08-20","value":27.2},
      {"race":"Hispanic","date":"2020-08-22","value":26.4},
      {"race":"Hispanic","date":"2020-08-23","value":24.9},
      {"race":"Hispanic","date":"2020-08-25","value":26.4},
      {"race":"Hispanic","date":"2020-08-27","value":27},
      {"race":"Hispanic","date":"2020-08-28","value":27.8},
      {"race":"Hispanic","date":"2020-08-29","value":26.2},
      {"race":"Hispanic","date":"2020-08-31","value":27.8},
      {"race":"Hispanic","date":"2020-09-02","value":25.9},
      {"race":"Hispanic","date":"2020-09-03","value":22.5},
      {"race":"Hispanic","date":"2020-09-05","value":22.2},
      {"race":"Hispanic","date":"2020-09-07","value":22},
      {"race":"Hispanic","date":"2020-09-09","value":20.9},
      {"race":"Hispanic","date":"2020-09-10","value":18.8},
      {"race":"Hispanic","date":"2020-09-12","value":16.7},
      {"race":"Hispanic","date":"2020-09-13","value":16.2},
      {"race":"Hispanic","date":"2020-09-16","value":17},
      {"race":"Hispanic","date":"2020-09-17","value":20.4},
      {"race":"Hispanic","date":"2020-09-19","value":22.2},
      {"race":"Hispanic","date":"2020-09-21","value":24.9},
      {"race":"Hispanic","date":"2020-09-22","value":24.9},
      {"race":"Hispanic","date":"2020-09-24","value":26.7},
      {"race":"Hispanic","date":"2020-09-26","value":29.3},
      {"race":"Hispanic","date":"2020-09-28","value":29.3},
      {"race":"Hispanic","date":"2020-09-29","value":30.7},
      {"race":"Hispanic","date":"2020-10-01","value":27.5},
      {"race":"Hispanic","date":"2020-10-03","value":28.8},
      {"race":"Hispanic","date":"2020-10-05","value":26.2},
      {"race":"Hispanic","date":"2020-10-08","value":29.3},
      {"race":"Hispanic","date":"2020-10-10","value":28},
      {"race":"Hispanic","date":"2020-10-11","value":31.6},
      {"race":"Hispanic","date":"2020-10-13","value":34.3},
      {"race":"Hispanic","date":"2020-10-14","value":37.6},
      {"race":"Hispanic","date":"2020-10-15","value":39.3},
      {"race":"Hispanic","date":"2020-10-17","value":41},
      {"race":"Hispanic","date":"2020-10-19","value":41.3},
      {"race":"Hispanic","date":"2020-10-20","value":40.3},
      {"race":"Hispanic","date":"2020-10-23","value":38.9},
      {"race":"Hispanic","date":"2020-10-25","value":39.6},
      {"race":"Hispanic","date":"2020-10-26","value":37.6},
      {"race":"Hispanic","date":"2020-10-27","value":39.6},
      {"race":"Hispanic","date":"2020-10-29","value":41.3},
      {"race":"Hispanic","date":"2020-10-30","value":45},
      {"race":"Hispanic","date":"2020-11-01","value":43.6},
      {"race":"Hispanic","date":"2020-11-03","value":49.6},
      {"race":"Hispanic","date":"2020-11-04","value":55.6},
      {"race":"Hispanic","date":"2020-11-05","value":62},
      {"race":"Hispanic","date":"2020-11-06","value":63.3},
      {"race":"Hispanic","date":"2020-11-08","value":79},
      {"race":"Hispanic","date":"2020-11-09","value":81.7},
      {"race":"Hispanic","date":"2020-11-10","value":78.7},
      {"race":"Hispanic","date":"2020-11-12","value":83.1},
      {"race":"Hispanic","date":"2020-11-13","value":90},
      {"race":"Hispanic","date":"2020-11-14","value":100},
      {"race":"Hispanic","date":"2020-11-15","value":107},
      {"race":"Hispanic","date":"2020-11-16","value":112},
      {"race":"Hispanic","date":"2020-11-18","value":114.2},
      {"race":"Hispanic","date":"2020-11-19","value":113.1},
      {"race":"Hispanic","date":"2020-11-20","value":117.6},
      {"race":"Hispanic","date":"2020-11-21","value":113.1},
      {"race":"Hispanic","date":"2020-11-22","value":102.8},
      {"race":"Hispanic","date":"2020-11-23","value":98.8},
      {"race":"Hispanic","date":"2020-11-24","value":112},
      {"race":"Hispanic","date":"2020-11-25","value":131.8},
      {"race":"Hispanic","date":"2020-11-27","value":129.5},
      {"race":"Hispanic","date":"2020-11-29","value":160.8},
      {"race":"Hispanic","date":"2020-11-30","value":164.8},
      {"race":"Hispanic","date":"2020-12-01","value":160.2},
      {"race":"Hispanic","date":"2020-12-02","value":143.2},
      {"race":"Hispanic","date":"2020-12-03","value":145.5},
      {"race":"Hispanic","date":"2020-12-04","value":151.7},
      {"race":"Hispanic","date":"2020-12-06","value":135.8},
      {"race":"Hispanic","date":"2020-12-08","value":142.6},
      {"race":"Hispanic","date":"2020-12-09","value":149.2},
      {"race":"Hispanic","date":"2020-12-10","value":142.6},
      {"race":"Hispanic","date":"2020-12-12","value":140.9},
      {"race":"Hispanic","date":"2020-12-13","value":136.4},
      {"race":"Hispanic","date":"2020-12-14","value":122.7},
      {"race":"Hispanic","date":"2020-12-15","value":122.2},
      {"race":"Hispanic","date":"2020-12-16","value":111.3},
      {"race":"Hispanic","date":"2020-12-18","value":107.4},
      {"race":"Hispanic","date":"2020-12-19","value":93.2},
      {"race":"Hispanic","date":"2020-12-21","value":90.3},
      {"race":"Hispanic","date":"2020-12-22","value":80.5},
      {"race":"Hispanic","date":"2020-12-23","value":74},
      {"race":"Hispanic","date":"2020-12-24","value":66.8},
      {"race":"Hispanic","date":"2020-12-26","value":62.5},
      {"race":"Hispanic","date":"2020-12-28","value":55.9},
      {"race":"Hispanic","date":"2020-12-29","value":46},
      {"race":"Hispanic","date":"2020-12-31","value":49.3},
      {"race":"Hispanic","date":"2021-01-02","value":53.1},
      {"race":"Hispanic","date":"2021-01-04","value":55.3},
      {"race":"Hispanic","date":"2021-01-05","value":62.5},
      {"race":"Hispanic","date":"2021-01-06","value":62.5},
      {"race":"Hispanic","date":"2021-01-08","value":64.6},
      {"race":"Hispanic","date":"2021-01-09","value":65.7},
      {"race":"Hispanic","date":"2021-01-10","value":64.1},
      {"race":"Hispanic","date":"2021-01-11","value":59.2},
      {"race":"Hispanic","date":"2021-01-12","value":59.2},
      {"race":"Hispanic","date":"2021-01-13","value":53.7},
      {"race":"Hispanic","date":"2021-01-14","value":52.6},
      {"race":"Hispanic","date":"2021-01-15","value":49.3},
      {"race":"Hispanic","date":"2021-01-16","value":43.5},
      {"race":"Hispanic","date":"2021-01-17","value":42.1},

      {"race":"Other","date":"2020-03-14","value":0},
      {"race":"Other","date":"2020-03-25","value":0.4},
      {"race":"Other","date":"2020-03-29","value":0.7},
      {"race":"Other","date":"2020-04-01","value":0.9},
      {"race":"Other","date":"2020-04-03","value":0.7},
      {"race":"Other","date":"2020-04-08","value":0.5},
      {"race":"Other","date":"2020-04-11","value":1.2},
      {"race":"Other","date":"2020-04-17","value":1.4},
      {"race":"Other","date":"2020-04-19","value":2.2},
      {"race":"Other","date":"2020-04-22","value":3.3},
      {"race":"Other","date":"2020-04-23","value":4.3},
      {"race":"Other","date":"2020-04-25","value":5.9},
      {"race":"Other","date":"2020-04-26","value":5.4},
      {"race":"Other","date":"2020-04-28","value":7.5},
      {"race":"Other","date":"2020-04-30","value":11.2},
      {"race":"Other","date":"2020-05-01","value":13.8},
      {"race":"Other","date":"2020-05-03","value":14.9},
      {"race":"Other","date":"2020-05-05","value":15.8},
      {"race":"Other","date":"2020-05-07","value":13.8},
      {"race":"Other","date":"2020-05-08","value":13.8},
      {"race":"Other","date":"2020-05-10","value":13.3},
      {"race":"Other","date":"2020-05-12","value":14.6},
      {"race":"Other","date":"2020-05-15","value":12},
      {"race":"Other","date":"2020-05-16","value":12.5},
      {"race":"Other","date":"2020-05-18","value":13.8},
      {"race":"Other","date":"2020-05-19","value":12.5},
      {"race":"Other","date":"2020-05-22","value":13.3},
      {"race":"Other","date":"2020-05-24","value":13.3},
      {"race":"Other","date":"2020-05-26","value":14.1},
      {"race":"Other","date":"2020-05-28","value":13},
      {"race":"Other","date":"2020-05-30","value":13},
      {"race":"Other","date":"2020-05-31","value":12.5},
      {"race":"Other","date":"2020-06-02","value":12.8},
      {"race":"Other","date":"2020-06-03","value":11.2},
      {"race":"Other","date":"2020-06-06","value":10.7},
      {"race":"Other","date":"2020-06-08","value":8.5},
      {"race":"Other","date":"2020-06-11","value":8.5},
      {"race":"Other","date":"2020-06-14","value":8},
      {"race":"Other","date":"2020-06-17","value":7.5},
      {"race":"Other","date":"2020-06-19","value":6.2},
      {"race":"Other","date":"2020-06-22","value":7},
      {"race":"Other","date":"2020-06-24","value":6.7},
      {"race":"Other","date":"2020-06-26","value":8.3},
      {"race":"Other","date":"2020-06-28","value":7.5},
      {"race":"Other","date":"2020-07-02","value":9.1},
      {"race":"Other","date":"2020-07-06","value":9.9},
      {"race":"Other","date":"2020-07-07","value":9.1},
      {"race":"Other","date":"2020-07-10","value":12.2},
      {"race":"Other","date":"2020-07-13","value":14.1},
      {"race":"Other","date":"2020-07-14","value":13.5},
      {"race":"Other","date":"2020-07-16","value":14.6},
      {"race":"Other","date":"2020-07-18","value":14.4},
      {"race":"Other","date":"2020-07-19","value":12.5},
      {"race":"Other","date":"2020-07-21","value":13.3},
      {"race":"Other","date":"2020-07-23","value":11.5},
      {"race":"Other","date":"2020-07-24","value":12.8},
      {"race":"Other","date":"2020-07-26","value":14.6},
      {"race":"Other","date":"2020-07-27","value":14.1},
      {"race":"Other","date":"2020-07-29","value":14.6},
      {"race":"Other","date":"2020-07-31","value":14.1},
      {"race":"Other","date":"2020-08-01","value":13.8},
      {"race":"Other","date":"2020-08-03","value":13},
      {"race":"Other","date":"2020-08-05","value":14.9},
      {"race":"Other","date":"2020-08-06","value":14.4},
      {"race":"Other","date":"2020-08-08","value":14.9},
      {"race":"Other","date":"2020-08-10","value":15.9},
      {"race":"Other","date":"2020-08-12","value":13.8},
      {"race":"Other","date":"2020-08-14","value":14.6},
      {"race":"Other","date":"2020-08-16","value":13.5},
      {"race":"Other","date":"2020-08-19","value":12.8},
      {"race":"Other","date":"2020-08-22","value":11.2},
      {"race":"Other","date":"2020-08-25","value":10.4},
      {"race":"Other","date":"2020-08-28","value":10.1},
      {"race":"Other","date":"2020-08-31","value":10.4},
      {"race":"Other","date":"2020-09-04","value":10.4},
      {"race":"Other","date":"2020-09-07","value":10.4},
      {"race":"Other","date":"2020-09-10","value":9.6},
      {"race":"Other","date":"2020-09-12","value":9.1},
      {"race":"Other","date":"2020-09-14","value":8},
      {"race":"Other","date":"2020-09-15","value":7.8},
      {"race":"Other","date":"2020-09-17","value":9.6},
      {"race":"Other","date":"2020-09-20","value":11.7},
      {"race":"Other","date":"2020-09-22","value":13},
      {"race":"Other","date":"2020-09-24","value":15.1},
      {"race":"Other","date":"2020-09-27","value":14.9},
      {"race":"Other","date":"2020-09-29","value":14.1},
      {"race":"Other","date":"2020-10-01","value":12.8},
      {"race":"Other","date":"2020-10-02","value":12.5},
      {"race":"Other","date":"2020-10-04","value":14.2},
      {"race":"Other","date":"2020-10-08","value":17.9},
      {"race":"Other","date":"2020-10-11","value":16.9},
      {"race":"Other","date":"2020-10-13","value":16.5},
      {"race":"Other","date":"2020-10-15","value":15.2},
      {"race":"Other","date":"2020-10-17","value":18.1},
      {"race":"Other","date":"2020-10-19","value":18.1},
      {"race":"Other","date":"2020-10-21","value":18.5},
      {"race":"Other","date":"2020-10-23","value":21.5},
      {"race":"Other","date":"2020-10-26","value":22.9},
      {"race":"Other","date":"2020-10-29","value":23.6},
      {"race":"Other","date":"2020-10-30","value":23.2},
      {"race":"Other","date":"2020-11-01","value":24.2},
      {"race":"Other","date":"2020-11-03","value":28.3},
      {"race":"Other","date":"2020-11-04","value":33.6},
      {"race":"Other","date":"2020-11-05","value":37.6},
      {"race":"Other","date":"2020-11-06","value":47.6},
      {"race":"Other","date":"2020-11-08","value":61},
      {"race":"Other","date":"2020-11-09","value":68.3},
      {"race":"Other","date":"2020-11-10","value":70.3},
      {"race":"Other","date":"2020-11-12","value":79.7},
      {"race":"Other","date":"2020-11-13","value":81},
      {"race":"Other","date":"2020-11-14","value":89.7},
      {"race":"Other","date":"2020-11-15","value":96},
      {"race":"Other","date":"2020-11-16","value":117},
      {"race":"Other","date":"2020-11-18","value":121.6},
      {"race":"Other","date":"2020-11-19","value":122.2},
      {"race":"Other","date":"2020-11-20","value":125.6},
      {"race":"Other","date":"2020-11-21","value":121},
      {"race":"Other","date":"2020-11-22","value":132.4},
      {"race":"Other","date":"2020-11-23","value":123.9},
      {"race":"Other","date":"2020-11-24","value":117.6},
      {"race":"Other","date":"2020-11-27","value":117.9},
      {"race":"Other","date":"2020-11-29","value":134.1},
      {"race":"Other","date":"2020-11-30","value":127.3},
      {"race":"Other","date":"2020-12-01","value":117.6},
      {"race":"Other","date":"2020-12-03","value":125.8},
      {"race":"Other","date":"2020-12-04","value":120.4},
      {"race":"Other","date":"2020-12-05","value":115.9},
      {"race":"Other","date":"2020-12-06","value":104.5},
      {"race":"Other","date":"2020-12-07","value":105.7},
      {"race":"Other","date":"2020-12-08","value":111.3},
      {"race":"Other","date":"2020-12-09","value":109.6},
      {"race":"Other","date":"2020-12-10","value":104.5},
      {"race":"Other","date":"2020-12-11","value":104.5},
      {"race":"Other","date":"2020-12-12","value":99.4},
      {"race":"Other","date":"2020-12-13","value":99.4},
      {"race":"Other","date":"2020-12-14","value":88.6},
      {"race":"Other","date":"2020-12-15","value":82.2},
      {"race":"Other","date":"2020-12-16","value":76.7},
      {"race":"Other","date":"2020-12-17","value":71.2},
      {"race":"Other","date":"2020-12-18","value":71},
      {"race":"Other","date":"2020-12-19","value":64.1},
      {"race":"Other","date":"2020-12-20","value":55.9},
      {"race":"Other","date":"2020-12-21","value":52.6},
      {"race":"Other","date":"2020-12-22","value":54.2},
      {"race":"Other","date":"2020-12-23","value":54.2},
      {"race":"Other","date":"2020-12-24","value":53.1},
      {"race":"Other","date":"2020-12-27","value":52},
      {"race":"Other","date":"2020-12-28","value":48.2},
      {"race":"Other","date":"2020-12-29","value":44.4},
      {"race":"Other","date":"2020-12-30","value":44.9},
      {"race":"Other","date":"2020-12-31","value":50.4},
      {"race":"Other","date":"2021-01-01","value":50.7},
      {"race":"Other","date":"2021-01-03","value":48.2},
      {"race":"Other","date":"2021-01-04","value":47.9},
      {"race":"Other","date":"2021-01-05","value":50.4},
      {"race":"Other","date":"2021-01-07","value":54.8},
      {"race":"Other","date":"2021-01-08","value":56.7},
      {"race":"Other","date":"2021-01-09","value":53.7},
      {"race":"Other","date":"2021-01-10","value":53.1},
      {"race":"Other","date":"2021-01-11","value":48.7},
      {"race":"Other","date":"2021-01-12","value":48.2},
      {"race":"Other","date":"2021-01-13","value":44.9},
      {"race":"Other","date":"2021-01-15","value":42.7},
      {"race":"Other","date":"2021-01-16","value":40},
      {"race":"Other","date":"2021-01-17","value":37.6}
    ]
  },
  "encoding": {
    "x": {"field": "date", "type": "temporal", "axis": null,
      "scale": {"type": "utc", "domain": [{"year": 2020, "month": 3, "date": 14, "utc": true}, {"year": 2021, "month": 3, "date": 20, "utc": true}]}},
    "y": {"field": "value", "type": "quantitative", "axis": null,
      "scale": {"domain": [0, 170], "nice": false, "zero": true}},
    "color": {"field": "race", "type": "nominal", "legend": null,
      "scale": {"domain": ["Hispanic", "Other", "Black", "Asian", "Native", "White"],
                "range": ["#fdc01e", "#0b2438", "#4e7f0c", "#8a4a20", "#a3c6e1", "#f4821f"]}}
  },
  "layer": [
    {
      "mark": {"type": "line", "strokeWidth": 5, "strokeJoin": "round"},
      "encoding": {
        "x": {"field": "date", "type": "temporal",
          "axis": {
            "orient": "bottom",
            "values": [
              {"year": 2020, "month": 4, "date": 1, "utc": true},
              {"year": 2020, "month": 5, "date": 1, "utc": true},
              {"year": 2020, "month": 6, "date": 1, "utc": true},
              {"year": 2020, "month": 7, "date": 1, "utc": true},
              {"year": 2020, "month": 8, "date": 1, "utc": true},
              {"year": 2020, "month": 9, "date": 1, "utc": true},
              {"year": 2020, "month": 10, "date": 1, "utc": true},
              {"year": 2020, "month": 11, "date": 1, "utc": true},
              {"year": 2020, "month": 12, "date": 1, "utc": true},
              {"year": 2021, "month": 1, "date": 1, "utc": true},
              {"year": 2021, "month": 2, "date": 1, "utc": true},
              {"year": 2021, "month": 3, "date": 1, "utc": true}
            ],
            "labelExpr": "utcFormat(datum.value, '%b')",
            "domain": false, "grid": false,
            "ticks": true, "tickSize": 9, "tickWidth": 3, "tickColor": "#000000",
            "offset": 9,
            "labelFont": "Inter", "labelFontSize": 40, "labelColor": "#2d3d44", "labelPadding": 2,
            "labelFlush": false, "labelOverlap": false,
            "title": "Source: Minnesota Department of Health. Graphic by David H. Montgomery | MPR News",
            "titleFont": "Inter", "titleFontStyle": "italic", "titleFontWeight": 400, "titleFontSize": 33,
            "titleColor": "#4a4a4a", "titleAnchor": "start", "titleAlign": "left", "titleBaseline": "alphabetic",
            "titleX": -159, "titleY": 133
          }},
        "y": {"field": "value", "type": "quantitative",
          "axis": {
            "orient": "left", "values": [0, 40, 80, 120, 160],
            "domain": false, "ticks": false, "grid": false,
            "labelFont": "Inter", "labelFontSize": 40, "labelColor": "#2d3d44", "labelPadding": 30,
            "title": "New cases per 100,000 people",
            "titleFont": "Inter", "titleFontSize": 50, "titleFontWeight": 400, "titleColor": "#1d2f36",
            "titlePadding": 12, "titleY": 553
          }}
      }
    },
    {
      "transform": [{"filter": {"field": "date", "equal": {"year": 2021, "month": 1, "date": 17, "utc": true}}}],
      "mark": {"type": "point", "filled": true, "size": 230, "opacity": 1},
      "encoding": {
        "x": {"field": "date", "type": "temporal",
          "axis": {
            "orient": "top", "labels": false, "ticks": false, "domain": false, "grid": false,
            "title": "news", "titleFont": "Inter", "titleFontWeight": 900, "titleFontSize": 76,
            "titleColor": "#00a1c6", "titleAnchor": "start", "titleAlign": "left", "titleBaseline": "alphabetic",
            "titleX": 1533, "titleY": 1229
          }},
        "y": {"field": "value", "type": "quantitative",
          "axis": {
            "orient": "right", "values": [0, 40, 80, 120, 160],
            "domain": false, "ticks": false, "grid": false,
            "labelFont": "Inter", "labelFontSize": 40, "labelColor": "#2d3d44", "labelPadding": 33,
            "title": "MPR", "titleAngle": 0, "titleFont": "Inter", "titleFontWeight": 900, "titleFontSize": 62,
            "titleColor": "#0b2231", "titleAnchor": "start", "titleAlign": "left", "titleBaseline": "alphabetic",
            "titleX": -182, "titleY": 1229
          }}
      }
    },
    {
      "transform": [{"filter": {"and": [{"field": "race", "equal": "Hispanic"}, {"field": "date", "equal": {"year": 2021, "month": 1, "date": 17, "utc": true}}]}}],
      "mark": {"type": "rule", "strokeWidth": 2.5, "xOffset": 12, "yOffset": -1, "x2Offset": 50, "y2Offset": -29},
      "encoding": {"x2": {"field": "date"}, "y2": {"field": "value"}}
    },
    {
      "transform": [{"filter": {"and": [{"field": "race", "equal": "White"}, {"field": "date", "equal": {"year": 2021, "month": 1, "date": 17, "utc": true}}]}}],
      "mark": {"type": "rule", "strokeWidth": 2.5, "xOffset": 12, "yOffset": 1, "x2Offset": 40, "y2Offset": 20},
      "encoding": {"x2": {"field": "date"}, "y2": {"field": "value"}}
    },
    {
      "transform": [{"filter": {"and": [{"field": "race", "equal": "Hispanic"}, {"field": "date", "equal": {"year": 2021, "month": 1, "date": 17, "utc": true}}]}}],
      "mark": {"type": "text", "align": "left", "baseline": "middle", "dx": 15, "dy": -50, "font": "Inter", "fontSize": 38, "fontWeight": 700},
      "encoding": {"text": {"field": "race"}}
    },
    {
      "transform": [{"filter": {"and": [{"field": "race", "equal": "Other"}, {"field": "date", "equal": {"year": 2021, "month": 1, "date": 17, "utc": true}}]}}],
      "mark": {"type": "text", "align": "left", "baseline": "middle", "dx": 15, "dy": -26, "font": "Inter", "fontSize": 38, "fontWeight": 700},
      "encoding": {"text": {"field": "race"}}
    },
    {
      "transform": [{"filter": {"and": [{"field": "race", "equal": "Black"}, {"field": "date", "equal": {"year": 2021, "month": 1, "date": 17, "utc": true}}]}}],
      "mark": {"type": "text", "align": "left", "baseline": "middle", "dx": 15, "dy": -23, "font": "Inter", "fontSize": 38, "fontWeight": 700},
      "encoding": {"text": {"field": "race"}}
    },
    {
      "transform": [{"filter": {"and": [{"field": "race", "equal": "Asian"}, {"field": "date", "equal": {"year": 2021, "month": 1, "date": 17, "utc": true}}]}}],
      "mark": {"type": "text", "align": "left", "baseline": "middle", "dx": 15, "dy": -7, "font": "Inter", "fontSize": 38, "fontWeight": 700},
      "encoding": {"text": {"field": "race"}}
    },
    {
      "transform": [{"filter": {"and": [{"field": "race", "equal": "Native"}, {"field": "date", "equal": {"year": 2021, "month": 1, "date": 17, "utc": true}}]}}],
      "mark": {"type": "text", "align": "left", "baseline": "middle", "dx": 15, "dy": 25, "font": "Inter", "fontSize": 38, "fontWeight": 700},
      "encoding": {"text": {"field": "race"}}
    },
    {
      "transform": [{"filter": {"and": [{"field": "race", "equal": "White"}, {"field": "date", "equal": {"year": 2021, "month": 1, "date": 17, "utc": true}}]}}],
      "mark": {"type": "text", "align": "left", "baseline": "middle", "dx": 15, "dy": 39, "font": "Inter", "fontSize": 38, "fontWeight": 700},
      "encoding": {"text": {"field": "race"}}
    }
  ],
  "resolve": {"axis": {"x": "independent", "y": "independent"}}
}
